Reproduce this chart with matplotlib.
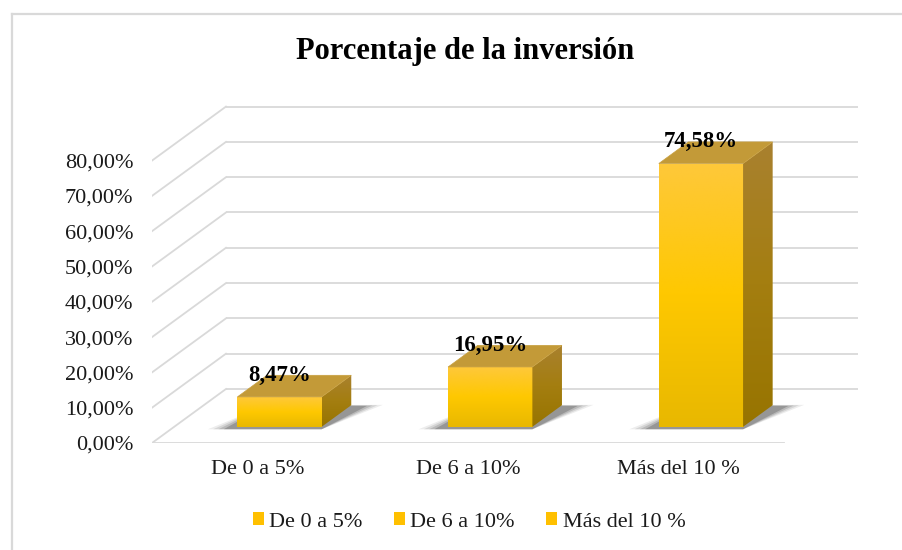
"""Porcentaje de la inversión: Excel-style 3D column chart redrawn in matplotlib."""

import matplotlib
matplotlib.use("Agg")
import matplotlib.pyplot as plt
import numpy as np
from matplotlib.colors import LinearSegmentedColormap
from matplotlib.lines import Line2D
from matplotlib.patches import Patch, Polygon

CATEGORIES = ["De 0 a 5%", "De 6 a 10%", "Más del 10 %"]
VALUES = [8.47, 16.95, 74.58]
Y_TICKS = [0, 10, 20, 30, 40, 50, 60, 70, 80]
TITLE = "Porcentaje de la inversión"

plt.rcParams["font.family"] = ["Liberation Serif", "DejaVu Serif"]

W, H = 903, 550
# oblique "depth" offset of the back wall, in data units (categories, percent)
OX, OY = 0.351, 15.3
D0, D1 = 0.30, 0.70     # bars sit between these depth fractions
BAR_W = 0.40
GRID = "#d9d9d9"


def add_gradient(ax, patch, colors, z):
    """Fill a patch with a vertical gradient (colors listed bottom -> top)."""
    path = patch.get_path().transformed(patch.get_patch_transform())
    x0, y0, x1, y1 = path.get_extents().extents
    cmap = LinearSegmentedColormap.from_list("g", colors)
    img = ax.imshow(np.linspace(0, 1, 256).reshape(-1, 1), cmap=cmap, origin="lower",
                    extent=(x0, x1, y0, y1), aspect="auto", zorder=z,
                    interpolation="bilinear")
    img.set_clip_path(patch)


def main():
    fig = plt.figure(figsize=(W / 100, H / 100), dpi=100)
    ax = fig.add_axes([152 / W, (H - 443) / H, (870 - 152) / W, (443 - 95) / H])
    xmax = -0.5 + (870 - 152) / 210.7
    ymax = (443 - 95) / 3.53

    # walls: back gridlines, left-side diagonals, front floor edge
    for v in Y_TICKS:
        ax.plot([-0.5 + OX, 2.5 + OX], [v + OY, v + OY], color=GRID, lw=1.3,
                zorder=0.5, solid_capstyle="butt")
        ax.plot([-0.5, -0.5 + OX], [v, v + OY], color=GRID, lw=1.3, zorder=0.5)
    ax.plot([-0.5, 2.5], [0, 0], color=GRID, lw=1.3, zorder=0.5)

    x = np.arange(len(CATEGORIES))
    dx, dy = (D1 - D0) * OX, (D1 - D0) * OY
    bars = ax.bar(x + D0 * OX, VALUES, width=BAR_W, bottom=D0 * OY,
                  color="#ffc800", edgecolor="none", zorder=3)

    for i, (rect, v) in enumerate(zip(bars, VALUES)):
        xl, xr = rect.get_x(), rect.get_x() + rect.get_width()
        yb, yt = rect.get_y(), rect.get_y() + rect.get_height()

        # soft shadow on the floor, layered to fake a blur
        for k, a in enumerate([0.08, 0.11, 0.15, 0.22]):
            g = 0.10 * (1 - k / 4)
            sh = Polygon([(xl - g - 0.04, yb - 0.7), (xr, yb - 0.7),
                          (xr + dx + g + 0.05, yb + dy - 0.3 + g * 4),
                          (xl + dx, yb + dy)],
                         closed=True, facecolor="#1a1a1a", edgecolor="none",
                         alpha=a, zorder=1)
            ax.add_patch(sh)

        rect.set_facecolor("none")
        add_gradient(ax, rect, ["#e8b800", "#fec800", "#ffc83a"], 3)

        side = Polygon([(xr, yb), (xr + dx, yb + dy), (xr + dx, yt + dy), (xr, yt)],
                       closed=True, facecolor="none", edgecolor="none", zorder=3)
        ax.add_patch(side)
        add_gradient(ax, side, ["#977400", "#a47e10", "#a9812f"], 3)

        top = Polygon([(xl, yt), (xr, yt), (xr + dx, yt + dy), (xl + dx, yt + dy)],
                      closed=True, facecolor="#c39a38", edgecolor="#c8a040",
                      lw=0.5, zorder=3.5)
        ax.add_patch(top)

        label = f"{v:.2f}".replace(".", ",") + "%"
        ax.text(x[i] + D0 * OX, v + D1 * OY, label, ha="center", va="center",
                fontsize=16.5, fontweight="bold", zorder=5)

    ax.set_xlim(-0.5, xmax)
    ax.set_ylim(0, ymax)
    for s in ax.spines.values():
        s.set_visible(False)
    ax.set_yticks(Y_TICKS)
    ax.set_yticklabels([f"{t:.2f}".replace(".", ",") + "%" for t in Y_TICKS])
    ax.set_xticks(x)
    ax.set_xticklabels(CATEGORIES)
    ax.tick_params(axis="y", length=0, pad=13.5, labelsize=16, colors="#1a1a1a")
    ax.tick_params(axis="x", length=0, pad=12, labelsize=16, colors="#1a1a1a")
    ax.set_facecolor("none")

    fig.text(465 / W, 1 - 52 / H, TITLE, ha="center", va="center",
             fontsize=22, fontweight="bold")

    handles = [Patch(facecolor="#ffc000", edgecolor="none") for _ in CATEGORIES]
    fig.legend(handles, CATEGORIES, loc="center", bbox_to_anchor=(469 / W, 1 - 522 / H),
               ncol=3, frameon=False, fontsize=16, handlelength=0.5, handleheight=0.5,
               handletextpad=0.25, columnspacing=1.4, labelcolor="#1a1a1a")

    # chart-area border (only left and top edges fall inside the crop)
    fig.add_artist(Line2D([12 / W, 12 / W], [0, 1 - 14 / H], color=GRID, lw=1.6))
    fig.add_artist(Line2D([12 / W, 1], [1 - 14 / H, 1 - 14 / H], color=GRID, lw=1.6))

    fig.savefig("out.png", dpi=100)
    plt.close(fig)


if __name__ == "__main__":
    main()
